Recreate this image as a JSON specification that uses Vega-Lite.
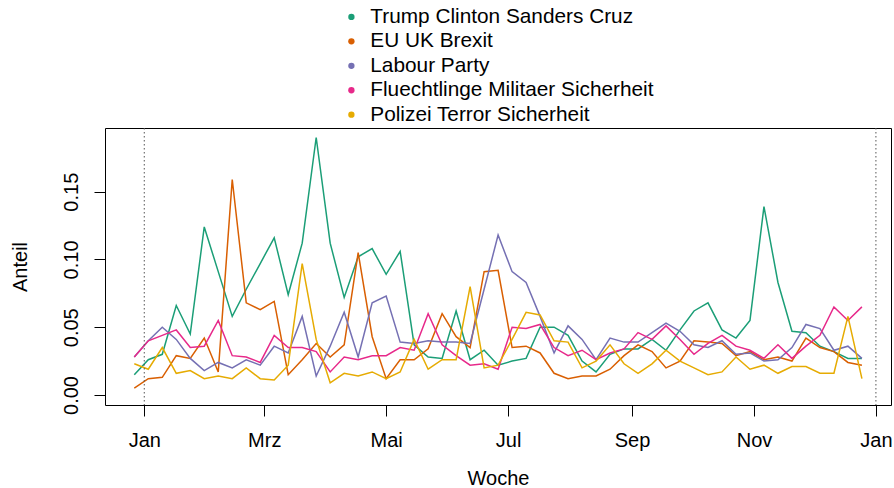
{
  "$schema": "https://vega.github.io/schema/vega-lite/v6.json",
  "width": 786,
  "height": 277,
  "autosize": {"type": "none"},
  "padding": {"left": 105, "top": 128, "right": 3, "bottom": 83},
  "background": "white",
  "config": {
    "font": "Liberation Sans",
    "view": {"stroke": "black", "strokeWidth": 1}
  },
  "datasets": {
    "series": [
      {"Woche":"2015-12-27","Thema":"Trump Clinton Sanders Cruz","Anteil":0.015},
      {"Woche":"2016-01-03","Thema":"Trump Clinton Sanders Cruz","Anteil":0.026},
      {"Woche":"2016-01-10","Thema":"Trump Clinton Sanders Cruz","Anteil":0.030},
      {"Woche":"2016-01-17","Thema":"Trump Clinton Sanders Cruz","Anteil":0.066},
      {"Woche":"2016-01-24","Thema":"Trump Clinton Sanders Cruz","Anteil":0.045},
      {"Woche":"2016-01-31","Thema":"Trump Clinton Sanders Cruz","Anteil":0.124},
      {"Woche":"2016-02-07","Thema":"Trump Clinton Sanders Cruz","Anteil":0.091},
      {"Woche":"2016-02-14","Thema":"Trump Clinton Sanders Cruz","Anteil":0.058},
      {"Woche":"2016-02-21","Thema":"Trump Clinton Sanders Cruz","Anteil":0.078},
      {"Woche":"2016-02-28","Thema":"Trump Clinton Sanders Cruz","Anteil":0.097},
      {"Woche":"2016-03-06","Thema":"Trump Clinton Sanders Cruz","Anteil":0.116},
      {"Woche":"2016-03-13","Thema":"Trump Clinton Sanders Cruz","Anteil":0.074},
      {"Woche":"2016-03-20","Thema":"Trump Clinton Sanders Cruz","Anteil":0.112},
      {"Woche":"2016-03-27","Thema":"Trump Clinton Sanders Cruz","Anteil":0.190},
      {"Woche":"2016-04-03","Thema":"Trump Clinton Sanders Cruz","Anteil":0.112},
      {"Woche":"2016-04-10","Thema":"Trump Clinton Sanders Cruz","Anteil":0.072},
      {"Woche":"2016-04-17","Thema":"Trump Clinton Sanders Cruz","Anteil":0.102},
      {"Woche":"2016-04-24","Thema":"Trump Clinton Sanders Cruz","Anteil":0.108},
      {"Woche":"2016-05-01","Thema":"Trump Clinton Sanders Cruz","Anteil":0.089},
      {"Woche":"2016-05-08","Thema":"Trump Clinton Sanders Cruz","Anteil":0.106},
      {"Woche":"2016-05-15","Thema":"Trump Clinton Sanders Cruz","Anteil":0.037},
      {"Woche":"2016-05-22","Thema":"Trump Clinton Sanders Cruz","Anteil":0.028},
      {"Woche":"2016-05-29","Thema":"Trump Clinton Sanders Cruz","Anteil":0.027},
      {"Woche":"2016-06-05","Thema":"Trump Clinton Sanders Cruz","Anteil":0.062},
      {"Woche":"2016-06-12","Thema":"Trump Clinton Sanders Cruz","Anteil":0.026},
      {"Woche":"2016-06-19","Thema":"Trump Clinton Sanders Cruz","Anteil":0.033},
      {"Woche":"2016-06-26","Thema":"Trump Clinton Sanders Cruz","Anteil":0.022},
      {"Woche":"2016-07-03","Thema":"Trump Clinton Sanders Cruz","Anteil":0.025},
      {"Woche":"2016-07-10","Thema":"Trump Clinton Sanders Cruz","Anteil":0.027},
      {"Woche":"2016-07-17","Thema":"Trump Clinton Sanders Cruz","Anteil":0.050},
      {"Woche":"2016-07-24","Thema":"Trump Clinton Sanders Cruz","Anteil":0.050},
      {"Woche":"2016-07-31","Thema":"Trump Clinton Sanders Cruz","Anteil":0.044},
      {"Woche":"2016-08-07","Thema":"Trump Clinton Sanders Cruz","Anteil":0.025},
      {"Woche":"2016-08-14","Thema":"Trump Clinton Sanders Cruz","Anteil":0.017},
      {"Woche":"2016-08-21","Thema":"Trump Clinton Sanders Cruz","Anteil":0.030},
      {"Woche":"2016-08-28","Thema":"Trump Clinton Sanders Cruz","Anteil":0.034},
      {"Woche":"2016-09-04","Thema":"Trump Clinton Sanders Cruz","Anteil":0.034},
      {"Woche":"2016-09-11","Thema":"Trump Clinton Sanders Cruz","Anteil":0.041},
      {"Woche":"2016-09-18","Thema":"Trump Clinton Sanders Cruz","Anteil":0.033},
      {"Woche":"2016-09-25","Thema":"Trump Clinton Sanders Cruz","Anteil":0.048},
      {"Woche":"2016-10-02","Thema":"Trump Clinton Sanders Cruz","Anteil":0.062},
      {"Woche":"2016-10-09","Thema":"Trump Clinton Sanders Cruz","Anteil":0.068},
      {"Woche":"2016-10-16","Thema":"Trump Clinton Sanders Cruz","Anteil":0.048},
      {"Woche":"2016-10-23","Thema":"Trump Clinton Sanders Cruz","Anteil":0.042},
      {"Woche":"2016-10-30","Thema":"Trump Clinton Sanders Cruz","Anteil":0.055},
      {"Woche":"2016-11-06","Thema":"Trump Clinton Sanders Cruz","Anteil":0.139},
      {"Woche":"2016-11-13","Thema":"Trump Clinton Sanders Cruz","Anteil":0.083},
      {"Woche":"2016-11-20","Thema":"Trump Clinton Sanders Cruz","Anteil":0.047},
      {"Woche":"2016-11-27","Thema":"Trump Clinton Sanders Cruz","Anteil":0.046},
      {"Woche":"2016-12-04","Thema":"Trump Clinton Sanders Cruz","Anteil":0.036},
      {"Woche":"2016-12-11","Thema":"Trump Clinton Sanders Cruz","Anteil":0.032},
      {"Woche":"2016-12-18","Thema":"Trump Clinton Sanders Cruz","Anteil":0.027},
      {"Woche":"2016-12-25","Thema":"Trump Clinton Sanders Cruz","Anteil":0.027},

      {"Woche":"2015-12-27","Thema":"EU UK Brexit","Anteil":0.005},
      {"Woche":"2016-01-03","Thema":"EU UK Brexit","Anteil":0.012},
      {"Woche":"2016-01-10","Thema":"EU UK Brexit","Anteil":0.013},
      {"Woche":"2016-01-17","Thema":"EU UK Brexit","Anteil":0.029},
      {"Woche":"2016-01-24","Thema":"EU UK Brexit","Anteil":0.027},
      {"Woche":"2016-01-31","Thema":"EU UK Brexit","Anteil":0.042},
      {"Woche":"2016-02-07","Thema":"EU UK Brexit","Anteil":0.017},
      {"Woche":"2016-02-14","Thema":"EU UK Brexit","Anteil":0.159},
      {"Woche":"2016-02-21","Thema":"EU UK Brexit","Anteil":0.068},
      {"Woche":"2016-02-28","Thema":"EU UK Brexit","Anteil":0.063},
      {"Woche":"2016-03-06","Thema":"EU UK Brexit","Anteil":0.069},
      {"Woche":"2016-03-13","Thema":"EU UK Brexit","Anteil":0.015},
      {"Woche":"2016-03-20","Thema":"EU UK Brexit","Anteil":0.026},
      {"Woche":"2016-03-27","Thema":"EU UK Brexit","Anteil":0.038},
      {"Woche":"2016-04-03","Thema":"EU UK Brexit","Anteil":0.028},
      {"Woche":"2016-04-10","Thema":"EU UK Brexit","Anteil":0.037},
      {"Woche":"2016-04-17","Thema":"EU UK Brexit","Anteil":0.105},
      {"Woche":"2016-04-24","Thema":"EU UK Brexit","Anteil":0.043},
      {"Woche":"2016-05-01","Thema":"EU UK Brexit","Anteil":0.012},
      {"Woche":"2016-05-08","Thema":"EU UK Brexit","Anteil":0.026},
      {"Woche":"2016-05-15","Thema":"EU UK Brexit","Anteil":0.026},
      {"Woche":"2016-05-22","Thema":"EU UK Brexit","Anteil":0.034},
      {"Woche":"2016-05-29","Thema":"EU UK Brexit","Anteil":0.060},
      {"Woche":"2016-06-05","Thema":"EU UK Brexit","Anteil":0.043},
      {"Woche":"2016-06-12","Thema":"EU UK Brexit","Anteil":0.035},
      {"Woche":"2016-06-19","Thema":"EU UK Brexit","Anteil":0.091},
      {"Woche":"2016-06-26","Thema":"EU UK Brexit","Anteil":0.092},
      {"Woche":"2016-07-03","Thema":"EU UK Brexit","Anteil":0.035},
      {"Woche":"2016-07-10","Thema":"EU UK Brexit","Anteil":0.036},
      {"Woche":"2016-07-17","Thema":"EU UK Brexit","Anteil":0.031},
      {"Woche":"2016-07-24","Thema":"EU UK Brexit","Anteil":0.016},
      {"Woche":"2016-07-31","Thema":"EU UK Brexit","Anteil":0.012},
      {"Woche":"2016-08-07","Thema":"EU UK Brexit","Anteil":0.014},
      {"Woche":"2016-08-14","Thema":"EU UK Brexit","Anteil":0.014},
      {"Woche":"2016-08-21","Thema":"EU UK Brexit","Anteil":0.019},
      {"Woche":"2016-08-28","Thema":"EU UK Brexit","Anteil":0.029},
      {"Woche":"2016-09-04","Thema":"EU UK Brexit","Anteil":0.037},
      {"Woche":"2016-09-11","Thema":"EU UK Brexit","Anteil":0.032},
      {"Woche":"2016-09-18","Thema":"EU UK Brexit","Anteil":0.020},
      {"Woche":"2016-09-25","Thema":"EU UK Brexit","Anteil":0.025},
      {"Woche":"2016-10-02","Thema":"EU UK Brexit","Anteil":0.040},
      {"Woche":"2016-10-09","Thema":"EU UK Brexit","Anteil":0.039},
      {"Woche":"2016-10-16","Thema":"EU UK Brexit","Anteil":0.038},
      {"Woche":"2016-10-23","Thema":"EU UK Brexit","Anteil":0.029},
      {"Woche":"2016-10-30","Thema":"EU UK Brexit","Anteil":0.032},
      {"Woche":"2016-11-06","Thema":"EU UK Brexit","Anteil":0.026},
      {"Woche":"2016-11-13","Thema":"EU UK Brexit","Anteil":0.028},
      {"Woche":"2016-11-20","Thema":"EU UK Brexit","Anteil":0.025},
      {"Woche":"2016-11-27","Thema":"EU UK Brexit","Anteil":0.042},
      {"Woche":"2016-12-04","Thema":"EU UK Brexit","Anteil":0.035},
      {"Woche":"2016-12-11","Thema":"EU UK Brexit","Anteil":0.032},
      {"Woche":"2016-12-18","Thema":"EU UK Brexit","Anteil":0.024},
      {"Woche":"2016-12-25","Thema":"EU UK Brexit","Anteil":0.022},

      {"Woche":"2015-12-27","Thema":"Labour Party","Anteil":0.028},
      {"Woche":"2016-01-03","Thema":"Labour Party","Anteil":0.040},
      {"Woche":"2016-01-10","Thema":"Labour Party","Anteil":0.050},
      {"Woche":"2016-01-17","Thema":"Labour Party","Anteil":0.041},
      {"Woche":"2016-01-24","Thema":"Labour Party","Anteil":0.027},
      {"Woche":"2016-01-31","Thema":"Labour Party","Anteil":0.018},
      {"Woche":"2016-02-07","Thema":"Labour Party","Anteil":0.024},
      {"Woche":"2016-02-14","Thema":"Labour Party","Anteil":0.020},
      {"Woche":"2016-02-21","Thema":"Labour Party","Anteil":0.026},
      {"Woche":"2016-02-28","Thema":"Labour Party","Anteil":0.022},
      {"Woche":"2016-03-06","Thema":"Labour Party","Anteil":0.036},
      {"Woche":"2016-03-13","Thema":"Labour Party","Anteil":0.031},
      {"Woche":"2016-03-20","Thema":"Labour Party","Anteil":0.058},
      {"Woche":"2016-03-27","Thema":"Labour Party","Anteil":0.014},
      {"Woche":"2016-04-03","Thema":"Labour Party","Anteil":0.036},
      {"Woche":"2016-04-10","Thema":"Labour Party","Anteil":0.061},
      {"Woche":"2016-04-17","Thema":"Labour Party","Anteil":0.028},
      {"Woche":"2016-04-24","Thema":"Labour Party","Anteil":0.068},
      {"Woche":"2016-05-01","Thema":"Labour Party","Anteil":0.073},
      {"Woche":"2016-05-08","Thema":"Labour Party","Anteil":0.039},
      {"Woche":"2016-05-15","Thema":"Labour Party","Anteil":0.038},
      {"Woche":"2016-05-22","Thema":"Labour Party","Anteil":0.040},
      {"Woche":"2016-05-29","Thema":"Labour Party","Anteil":0.039},
      {"Woche":"2016-06-05","Thema":"Labour Party","Anteil":0.039},
      {"Woche":"2016-06-12","Thema":"Labour Party","Anteil":0.038},
      {"Woche":"2016-06-19","Thema":"Labour Party","Anteil":0.078},
      {"Woche":"2016-06-26","Thema":"Labour Party","Anteil":0.118},
      {"Woche":"2016-07-03","Thema":"Labour Party","Anteil":0.091},
      {"Woche":"2016-07-10","Thema":"Labour Party","Anteil":0.083},
      {"Woche":"2016-07-17","Thema":"Labour Party","Anteil":0.058},
      {"Woche":"2016-07-24","Thema":"Labour Party","Anteil":0.031},
      {"Woche":"2016-07-31","Thema":"Labour Party","Anteil":0.051},
      {"Woche":"2016-08-07","Thema":"Labour Party","Anteil":0.041},
      {"Woche":"2016-08-14","Thema":"Labour Party","Anteil":0.026},
      {"Woche":"2016-08-21","Thema":"Labour Party","Anteil":0.042},
      {"Woche":"2016-08-28","Thema":"Labour Party","Anteil":0.039},
      {"Woche":"2016-09-04","Thema":"Labour Party","Anteil":0.039},
      {"Woche":"2016-09-11","Thema":"Labour Party","Anteil":0.046},
      {"Woche":"2016-09-18","Thema":"Labour Party","Anteil":0.053},
      {"Woche":"2016-09-25","Thema":"Labour Party","Anteil":0.047},
      {"Woche":"2016-10-02","Thema":"Labour Party","Anteil":0.037},
      {"Woche":"2016-10-09","Thema":"Labour Party","Anteil":0.035},
      {"Woche":"2016-10-16","Thema":"Labour Party","Anteil":0.040},
      {"Woche":"2016-10-23","Thema":"Labour Party","Anteil":0.030},
      {"Woche":"2016-10-30","Thema":"Labour Party","Anteil":0.031},
      {"Woche":"2016-11-06","Thema":"Labour Party","Anteil":0.025},
      {"Woche":"2016-11-13","Thema":"Labour Party","Anteil":0.026},
      {"Woche":"2016-11-20","Thema":"Labour Party","Anteil":0.035},
      {"Woche":"2016-11-27","Thema":"Labour Party","Anteil":0.052},
      {"Woche":"2016-12-04","Thema":"Labour Party","Anteil":0.049},
      {"Woche":"2016-12-11","Thema":"Labour Party","Anteil":0.033},
      {"Woche":"2016-12-18","Thema":"Labour Party","Anteil":0.036},
      {"Woche":"2016-12-25","Thema":"Labour Party","Anteil":0.027},

      {"Woche":"2015-12-27","Thema":"Fluechtlinge Militaer Sicherheit","Anteil":0.028},
      {"Woche":"2016-01-03","Thema":"Fluechtlinge Militaer Sicherheit","Anteil":0.040},
      {"Woche":"2016-01-10","Thema":"Fluechtlinge Militaer Sicherheit","Anteil":0.044},
      {"Woche":"2016-01-17","Thema":"Fluechtlinge Militaer Sicherheit","Anteil":0.048},
      {"Woche":"2016-01-24","Thema":"Fluechtlinge Militaer Sicherheit","Anteil":0.035},
      {"Woche":"2016-01-31","Thema":"Fluechtlinge Militaer Sicherheit","Anteil":0.036},
      {"Woche":"2016-02-07","Thema":"Fluechtlinge Militaer Sicherheit","Anteil":0.055},
      {"Woche":"2016-02-14","Thema":"Fluechtlinge Militaer Sicherheit","Anteil":0.029},
      {"Woche":"2016-02-21","Thema":"Fluechtlinge Militaer Sicherheit","Anteil":0.028},
      {"Woche":"2016-02-28","Thema":"Fluechtlinge Militaer Sicherheit","Anteil":0.024},
      {"Woche":"2016-03-06","Thema":"Fluechtlinge Militaer Sicherheit","Anteil":0.044},
      {"Woche":"2016-03-13","Thema":"Fluechtlinge Militaer Sicherheit","Anteil":0.035},
      {"Woche":"2016-03-20","Thema":"Fluechtlinge Militaer Sicherheit","Anteil":0.035},
      {"Woche":"2016-03-27","Thema":"Fluechtlinge Militaer Sicherheit","Anteil":0.032},
      {"Woche":"2016-04-03","Thema":"Fluechtlinge Militaer Sicherheit","Anteil":0.017},
      {"Woche":"2016-04-10","Thema":"Fluechtlinge Militaer Sicherheit","Anteil":0.028},
      {"Woche":"2016-04-17","Thema":"Fluechtlinge Militaer Sicherheit","Anteil":0.026},
      {"Woche":"2016-04-24","Thema":"Fluechtlinge Militaer Sicherheit","Anteil":0.029},
      {"Woche":"2016-05-01","Thema":"Fluechtlinge Militaer Sicherheit","Anteil":0.029},
      {"Woche":"2016-05-08","Thema":"Fluechtlinge Militaer Sicherheit","Anteil":0.035},
      {"Woche":"2016-05-15","Thema":"Fluechtlinge Militaer Sicherheit","Anteil":0.033},
      {"Woche":"2016-05-22","Thema":"Fluechtlinge Militaer Sicherheit","Anteil":0.060},
      {"Woche":"2016-05-29","Thema":"Fluechtlinge Militaer Sicherheit","Anteil":0.037},
      {"Woche":"2016-06-05","Thema":"Fluechtlinge Militaer Sicherheit","Anteil":0.029},
      {"Woche":"2016-06-12","Thema":"Fluechtlinge Militaer Sicherheit","Anteil":0.022},
      {"Woche":"2016-06-19","Thema":"Fluechtlinge Militaer Sicherheit","Anteil":0.023},
      {"Woche":"2016-06-26","Thema":"Fluechtlinge Militaer Sicherheit","Anteil":0.019},
      {"Woche":"2016-07-03","Thema":"Fluechtlinge Militaer Sicherheit","Anteil":0.050},
      {"Woche":"2016-07-10","Thema":"Fluechtlinge Militaer Sicherheit","Anteil":0.049},
      {"Woche":"2016-07-17","Thema":"Fluechtlinge Militaer Sicherheit","Anteil":0.052},
      {"Woche":"2016-07-24","Thema":"Fluechtlinge Militaer Sicherheit","Anteil":0.035},
      {"Woche":"2016-07-31","Thema":"Fluechtlinge Militaer Sicherheit","Anteil":0.029},
      {"Woche":"2016-08-07","Thema":"Fluechtlinge Militaer Sicherheit","Anteil":0.033},
      {"Woche":"2016-08-14","Thema":"Fluechtlinge Militaer Sicherheit","Anteil":0.026},
      {"Woche":"2016-08-21","Thema":"Fluechtlinge Militaer Sicherheit","Anteil":0.031},
      {"Woche":"2016-08-28","Thema":"Fluechtlinge Militaer Sicherheit","Anteil":0.034},
      {"Woche":"2016-09-04","Thema":"Fluechtlinge Militaer Sicherheit","Anteil":0.046},
      {"Woche":"2016-09-11","Thema":"Fluechtlinge Militaer Sicherheit","Anteil":0.041},
      {"Woche":"2016-09-18","Thema":"Fluechtlinge Militaer Sicherheit","Anteil":0.051},
      {"Woche":"2016-09-25","Thema":"Fluechtlinge Militaer Sicherheit","Anteil":0.041},
      {"Woche":"2016-10-02","Thema":"Fluechtlinge Militaer Sicherheit","Anteil":0.030},
      {"Woche":"2016-10-09","Thema":"Fluechtlinge Militaer Sicherheit","Anteil":0.038},
      {"Woche":"2016-10-16","Thema":"Fluechtlinge Militaer Sicherheit","Anteil":0.044},
      {"Woche":"2016-10-23","Thema":"Fluechtlinge Militaer Sicherheit","Anteil":0.036},
      {"Woche":"2016-10-30","Thema":"Fluechtlinge Militaer Sicherheit","Anteil":0.033},
      {"Woche":"2016-11-06","Thema":"Fluechtlinge Militaer Sicherheit","Anteil":0.027},
      {"Woche":"2016-11-13","Thema":"Fluechtlinge Militaer Sicherheit","Anteil":0.037},
      {"Woche":"2016-11-20","Thema":"Fluechtlinge Militaer Sicherheit","Anteil":0.027},
      {"Woche":"2016-11-27","Thema":"Fluechtlinge Militaer Sicherheit","Anteil":0.036},
      {"Woche":"2016-12-04","Thema":"Fluechtlinge Militaer Sicherheit","Anteil":0.044},
      {"Woche":"2016-12-11","Thema":"Fluechtlinge Militaer Sicherheit","Anteil":0.065},
      {"Woche":"2016-12-18","Thema":"Fluechtlinge Militaer Sicherheit","Anteil":0.055},
      {"Woche":"2016-12-25","Thema":"Fluechtlinge Militaer Sicherheit","Anteil":0.065},

      {"Woche":"2015-12-27","Thema":"Polizei Terror Sicherheit","Anteil":0.023},
      {"Woche":"2016-01-03","Thema":"Polizei Terror Sicherheit","Anteil":0.019},
      {"Woche":"2016-01-10","Thema":"Polizei Terror Sicherheit","Anteil":0.035},
      {"Woche":"2016-01-17","Thema":"Polizei Terror Sicherheit","Anteil":0.016},
      {"Woche":"2016-01-24","Thema":"Polizei Terror Sicherheit","Anteil":0.018},
      {"Woche":"2016-01-31","Thema":"Polizei Terror Sicherheit","Anteil":0.012},
      {"Woche":"2016-02-07","Thema":"Polizei Terror Sicherheit","Anteil":0.014},
      {"Woche":"2016-02-14","Thema":"Polizei Terror Sicherheit","Anteil":0.012},
      {"Woche":"2016-02-21","Thema":"Polizei Terror Sicherheit","Anteil":0.020},
      {"Woche":"2016-02-28","Thema":"Polizei Terror Sicherheit","Anteil":0.012},
      {"Woche":"2016-03-06","Thema":"Polizei Terror Sicherheit","Anteil":0.011},
      {"Woche":"2016-03-13","Thema":"Polizei Terror Sicherheit","Anteil":0.022},
      {"Woche":"2016-03-20","Thema":"Polizei Terror Sicherheit","Anteil":0.097},
      {"Woche":"2016-03-27","Thema":"Polizei Terror Sicherheit","Anteil":0.041},
      {"Woche":"2016-04-03","Thema":"Polizei Terror Sicherheit","Anteil":0.009},
      {"Woche":"2016-04-10","Thema":"Polizei Terror Sicherheit","Anteil":0.016},
      {"Woche":"2016-04-17","Thema":"Polizei Terror Sicherheit","Anteil":0.014},
      {"Woche":"2016-04-24","Thema":"Polizei Terror Sicherheit","Anteil":0.017},
      {"Woche":"2016-05-01","Thema":"Polizei Terror Sicherheit","Anteil":0.012},
      {"Woche":"2016-05-08","Thema":"Polizei Terror Sicherheit","Anteil":0.017},
      {"Woche":"2016-05-15","Thema":"Polizei Terror Sicherheit","Anteil":0.041},
      {"Woche":"2016-05-22","Thema":"Polizei Terror Sicherheit","Anteil":0.019},
      {"Woche":"2016-05-29","Thema":"Polizei Terror Sicherheit","Anteil":0.026},
      {"Woche":"2016-06-05","Thema":"Polizei Terror Sicherheit","Anteil":0.026},
      {"Woche":"2016-06-12","Thema":"Polizei Terror Sicherheit","Anteil":0.080},
      {"Woche":"2016-06-19","Thema":"Polizei Terror Sicherheit","Anteil":0.020},
      {"Woche":"2016-06-26","Thema":"Polizei Terror Sicherheit","Anteil":0.022},
      {"Woche":"2016-07-03","Thema":"Polizei Terror Sicherheit","Anteil":0.041},
      {"Woche":"2016-07-10","Thema":"Polizei Terror Sicherheit","Anteil":0.061},
      {"Woche":"2016-07-17","Thema":"Polizei Terror Sicherheit","Anteil":0.059},
      {"Woche":"2016-07-24","Thema":"Polizei Terror Sicherheit","Anteil":0.040},
      {"Woche":"2016-07-31","Thema":"Polizei Terror Sicherheit","Anteil":0.039},
      {"Woche":"2016-08-07","Thema":"Polizei Terror Sicherheit","Anteil":0.020},
      {"Woche":"2016-08-14","Thema":"Polizei Terror Sicherheit","Anteil":0.025},
      {"Woche":"2016-08-21","Thema":"Polizei Terror Sicherheit","Anteil":0.037},
      {"Woche":"2016-08-28","Thema":"Polizei Terror Sicherheit","Anteil":0.023},
      {"Woche":"2016-09-04","Thema":"Polizei Terror Sicherheit","Anteil":0.016},
      {"Woche":"2016-09-11","Thema":"Polizei Terror Sicherheit","Anteil":0.023},
      {"Woche":"2016-09-18","Thema":"Polizei Terror Sicherheit","Anteil":0.033},
      {"Woche":"2016-09-25","Thema":"Polizei Terror Sicherheit","Anteil":0.025},
      {"Woche":"2016-10-02","Thema":"Polizei Terror Sicherheit","Anteil":0.020},
      {"Woche":"2016-10-09","Thema":"Polizei Terror Sicherheit","Anteil":0.015},
      {"Woche":"2016-10-16","Thema":"Polizei Terror Sicherheit","Anteil":0.017},
      {"Woche":"2016-10-23","Thema":"Polizei Terror Sicherheit","Anteil":0.028},
      {"Woche":"2016-10-30","Thema":"Polizei Terror Sicherheit","Anteil":0.019},
      {"Woche":"2016-11-06","Thema":"Polizei Terror Sicherheit","Anteil":0.022},
      {"Woche":"2016-11-13","Thema":"Polizei Terror Sicherheit","Anteil":0.016},
      {"Woche":"2016-11-20","Thema":"Polizei Terror Sicherheit","Anteil":0.021},
      {"Woche":"2016-11-27","Thema":"Polizei Terror Sicherheit","Anteil":0.021},
      {"Woche":"2016-12-04","Thema":"Polizei Terror Sicherheit","Anteil":0.016},
      {"Woche":"2016-12-11","Thema":"Polizei Terror Sicherheit","Anteil":0.016},
      {"Woche":"2016-12-18","Thema":"Polizei Terror Sicherheit","Anteil":0.058},
      {"Woche":"2016-12-25","Thema":"Polizei Terror Sicherheit","Anteil":0.012}
    ],
    "jahreswechsel": [
      {"Woche": "2016-01-01"},
      {"Woche": "2017-01-01"}
    ]
  },
  "layer": [
    {
      "data": {"name": "series"},
      "mark": {"type": "line", "strokeWidth": 1.5, "clip": true},
      "encoding": {
        "x": {
          "field": "Woche",
          "type": "temporal",
          "scale": {"type": "utc", "domain": [1449908640000, 1483881120000]},
          "axis": {
            "title": "Woche",
            "values": [1451606400000, 1456790400000, 1462060800000, 1467331200000, 1472688000000, 1477958400000, 1483228800000],
            "labelExpr": "['Jan','Feb','Mrz','Apr','Mai','Jun','Jul','Aug','Sep','Okt','Nov','Dez'][utcmonth(datum.value)]",
            "domain": false,
            "grid": false,
            "tickSize": 11,
            "tickColor": "black",
            "tickWidth": 1,
            "labelFontSize": 20,
            "labelColor": "black",
            "labelPadding": 14,
            "labelFlush": false,
            "labelOverlap": false,
            "labelFont": "Liberation Sans",
            "titleFont": "Liberation Sans",
            "titleFontSize": 20,
            "titleFontWeight": "normal",
            "titleColor": "black",
            "titleY": 73.5,
            "titleBaseline": "middle"
          }
        },
        "y": {
          "field": "Anteil",
          "type": "quantitative",
          "scale": {"domain": [-0.0074, 0.197], "nice": false, "zero": false},
          "axis": {
            "title": "Anteil",
            "values": [0, 0.05, 0.1, 0.15],
            "format": ".2f",
            "domain": false,
            "grid": false,
            "tickSize": 11,
            "tickColor": "black",
            "tickWidth": 1,
            "labelFontSize": 20,
            "labelColor": "black",
            "labelAngle": -90,
            "labelAlign": "center",
            "labelBaseline": "alphabetic",
            "labelPadding": 17,
            "labelFlush": false,
            "labelOverlap": false,
            "labelFont": "Liberation Sans",
            "titleFont": "Liberation Sans",
            "titleFontSize": 20,
            "titleFontWeight": "normal",
            "titleColor": "black",
            "titleAngle": -90,
            "titleX": -85,
            "titleY": 138.5,
            "titleAlign": "center",
            "titleBaseline": "middle"
          }
        },
        "color": {
          "field": "Thema",
          "type": "nominal",
          "sort": null,
          "scale": {
            "domain": ["Trump Clinton Sanders Cruz", "EU UK Brexit", "Labour Party", "Fluechtlinge Militaer Sicherheit", "Polizei Terror Sicherheit"],
            "range": ["#1B9E77", "#D95F02", "#7570B3", "#E7298A", "#E6AB02"]
          },
          "legend": {
            "orient": "none",
            "legendX": 236,
            "legendY": -121.5,
            "title": null,
            "direction": "vertical",
            "symbolType": "circle",
            "symbolSize": 40,
            "symbolStrokeWidth": 0,
            "labelFontSize": 20.8,
            "labelFont": "Liberation Sans",
            "labelColor": "black",
            "labelOffset": 8.5,
            "labelLimit": 0,
            "rowPadding": 2.45,
            "padding": 0,
            "encode": {
              "symbols": {
                "update": {
                  "fill": {"scale": "color", "field": "value"},
                  "fillOpacity": {"value": 1},
                  "strokeOpacity": {"value": 0}
                }
              }
            }
          }
        }
      }
    },
    {
      "data": {"name": "jahreswechsel"},
      "mark": {"type": "rule", "strokeDash": [1.5, 2.5], "color": "#555555", "strokeWidth": 1},
      "encoding": {
        "x": {"field": "Woche", "type": "temporal"}
      }
    }
  ]
}
